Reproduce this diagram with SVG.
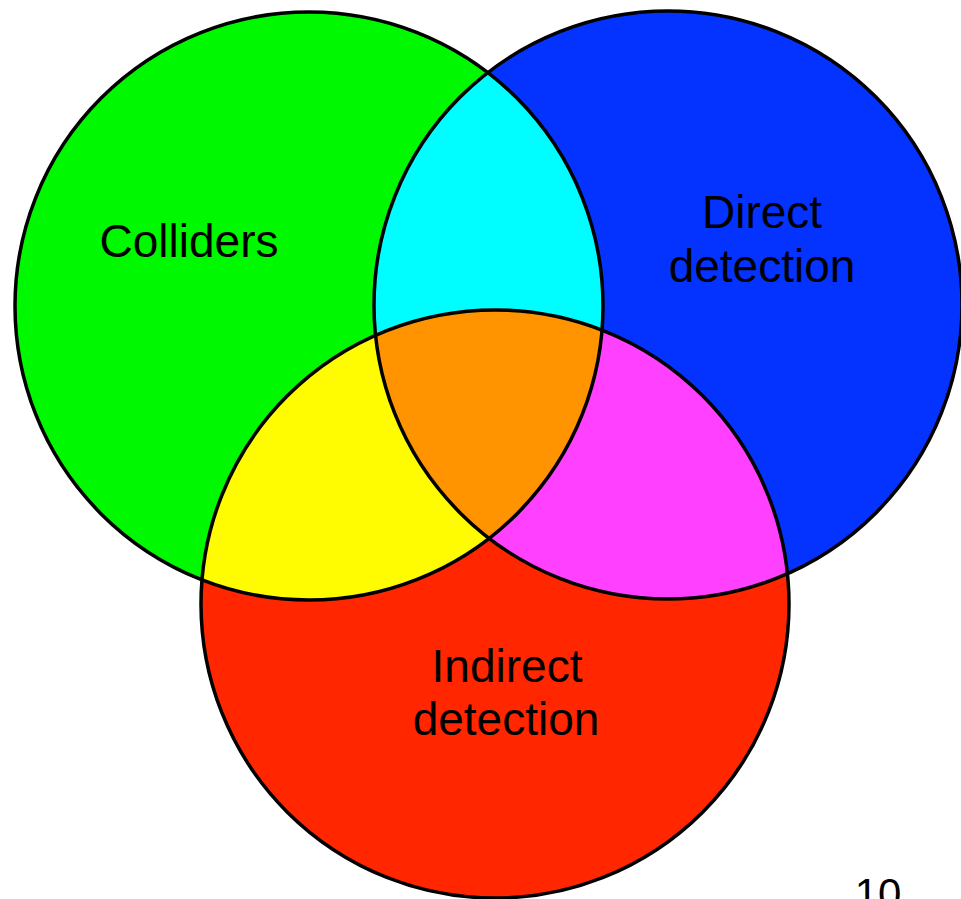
<svg xmlns="http://www.w3.org/2000/svg" width="961" height="899" viewBox="0 0 961 899">
<style>
.lbl{font-family:"Liberation Sans",Arial,sans-serif;font-size:46px;fill:#000;text-anchor:middle}
.ring{fill:none;stroke:#000;stroke-width:3.5}
</style>
<defs>
<circle id="cg" cx="309" cy="306" r="294"/>
<circle id="cb" cx="668" cy="305" r="294"/>
<circle id="cr" cx="495" cy="604" r="294"/>
<clipPath id="clipG"><use href="#cg"/></clipPath>
<clipPath id="clipB"><use href="#cb"/></clipPath>
<clipPath id="clipR"><use href="#cr"/></clipPath>
</defs>
<rect width="961" height="899" fill="#fff"/>
<g id="colliders">
<use href="#cg" fill="#00F900"/>
</g>
<g id="direct">
<use href="#cb" fill="#0433FF"/>
</g>
<g id="indirect">
<use href="#cr" fill="#FF2600"/>
</g>
<g id="overlaps">
<g clip-path="url(#clipG)"><use href="#cb" fill="#00FDFF"/></g>
<g clip-path="url(#clipG)"><use href="#cr" fill="#FFFB00"/></g>
<g clip-path="url(#clipB)"><use href="#cr" fill="#FF40FF"/></g>
<g clip-path="url(#clipG)"><g clip-path="url(#clipB)"><use href="#cr" fill="#FF9300"/></g></g>
</g>
<g id="outlines">
<use href="#cg" class="ring"/>
<use href="#cb" class="ring"/>
<use href="#cr" class="ring"/>
</g>
<g id="labels">
<text class="lbl" x="189" y="257">Colliders</text>
<text class="lbl" x="762" y="228">Direct</text>
<text class="lbl" x="762" y="282">detection</text>
<text class="lbl" x="507" y="682">Indirect</text>
<text class="lbl" x="506" y="735">detection</text>
<text class="lbl" x="878" y="908" style="font-size:42px">10</text>
</g>
</svg>
